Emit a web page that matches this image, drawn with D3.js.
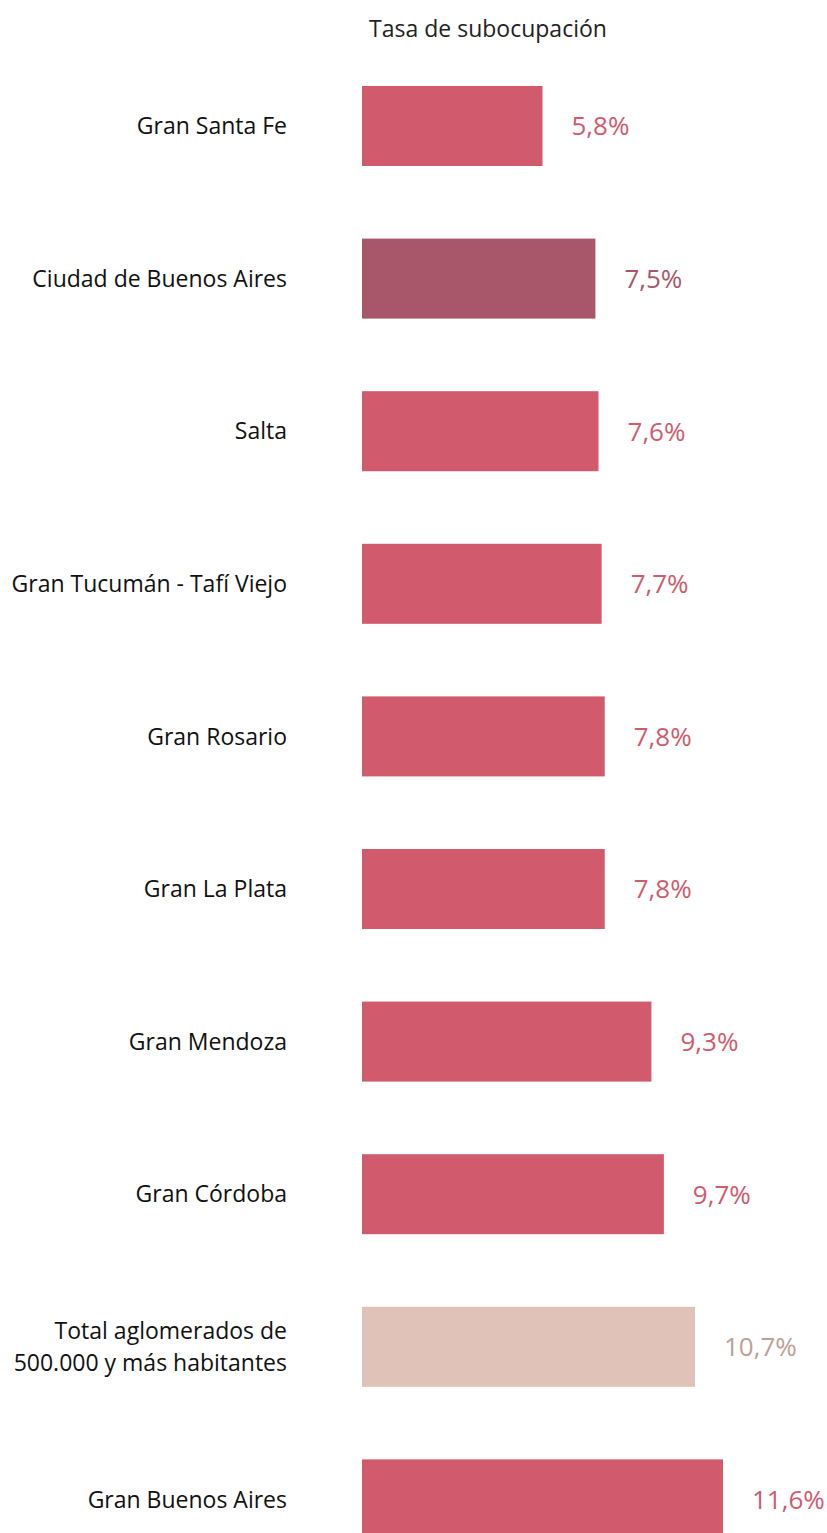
<!DOCTYPE html>
<html><head><meta charset="utf-8">
<script src="https://cdn.jsdelivr.net/npm/d3@7"></script>
<style>body{margin:0;background:#fff;} svg{display:block;font-family:"Open Sans","Noto Sans",sans-serif;}</style>
</head><body>
<svg id="c" width="827" height="1533"></svg>
<script>
const categories = ["Gran Santa Fe","Ciudad de Buenos Aires","Salta","Gran Tucumán - Tafí Viejo","Gran Rosario","Gran La Plata","Gran Mendoza","Gran Córdoba","Total aglomerados de\n500.000 y más habitantes","Gran Buenos Aires"];
const values = [5.8,7.5,7.6,7.7,7.8,7.8,9.3,9.7,10.7,11.6];
const valueLabels = ["5,8%","7,5%","7,6%","7,7%","7,8%","7,8%","9,3%","9,7%","10,7%","11,6%"];
const kinds = ["agl","caba","agl","agl","agl","agl","agl","agl","total","agl"];
const title = "Tasa de subocupación";

const fill = {agl:"#D15A6C", caba:"#A8576B", total:"#E0C2B8"};
const textFill = {agl:"#D15A6C", caba:"#A8576B", total:"#BBA198"};

const svg = d3.select("#c");
const x = d3.scaleLinear().domain([0, 11.6]).range([362, 723]);
const y = d3.scaleBand().domain(categories).range([86, 1539.4]).paddingInner(0.4757).paddingOuter(0);

svg.append("text").attr("x", 488).attr("y", 37).attr("text-anchor","middle")
  .attr("font-size", 23).attr("fill","#222").text(title);

const g = svg.selectAll("g.row").data(categories).enter().append("g").attr("class","row");
g.append("rect")
  .attr("x", x(0)).attr("y", d => y(d))
  .attr("width", (d,i) => x(values[i]) - x(0))
  .attr("height", y.bandwidth())
  .attr("fill", (d,i) => fill[kinds[i]]);

g.append("text")
  .attr("x", (d,i) => x(values[i]) + 29)
  .attr("y", d => y(d) + y.bandwidth()/2)
  .attr("dy", "0.36em")
  .attr("font-size", 26)
  .attr("fill", (d,i) => textFill[kinds[i]])
  .text((d,i) => valueLabels[i]);

g.each(function(d){
  const lines = d.split("\n");
  const t = d3.select(this).append("text")
    .attr("x", 287).attr("text-anchor","end")
    .attr("font-size", 23).attr("fill","#111");
  const cy = y(d) + y.bandwidth()/2;
  const lh = 32;
  lines.forEach((ln, k) => {
    t.append("tspan").attr("x", 287)
      .attr("y", cy + (k - (lines.length-1)/2) * lh)
      .attr("dy","0.36em").text(ln);
  });
});
</script>
</body></html>
